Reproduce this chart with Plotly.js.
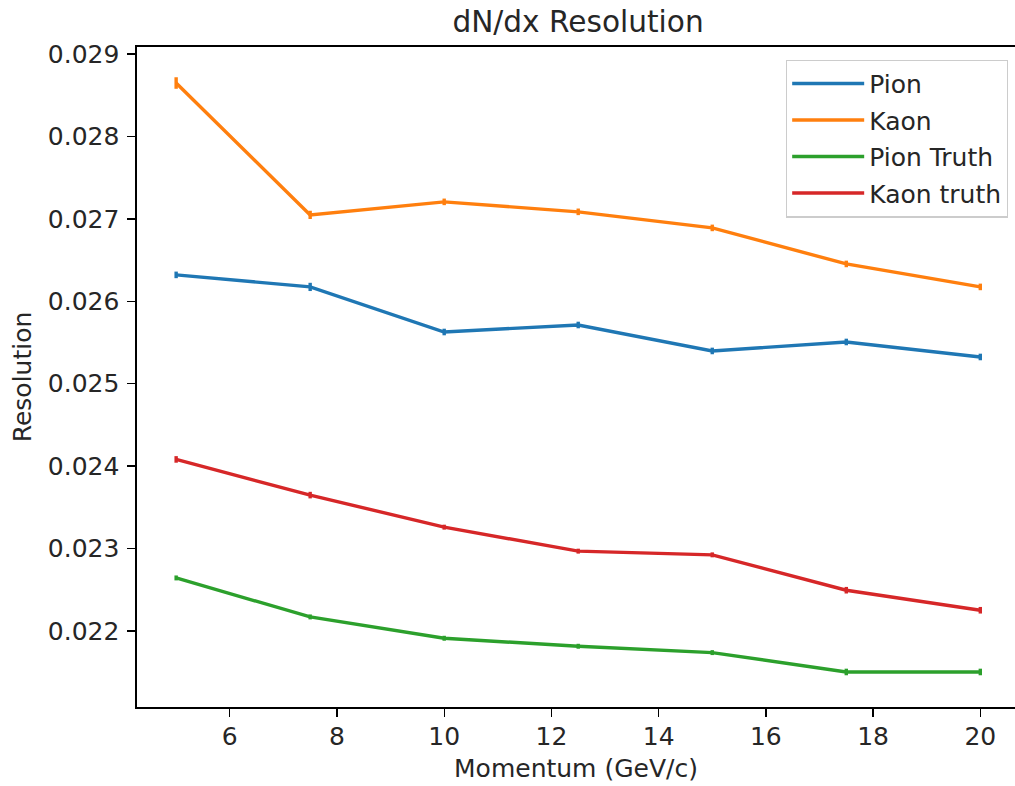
<!DOCTYPE html>
<html>
<head>
<meta charset="utf-8">
<script src="https://cdn.plot.ly/plotly-3.0.1.min.js"></script>
<style>html,body{margin:0;padding:0;background:#fff;}#chart{width:1015px;height:786px;}</style>
</head>
<body>
<div id="chart"></div>
<script>
const momentum = [5, 7.5, 10, 12.5, 15, 17.5, 20];
const pion = [0.02632, 0.026174, 0.025627, 0.025712, 0.025397, 0.025506, 0.025324];
const pionErr = [0.00004, 0.00005, 0.00004, 0.00004, 0.00004, 0.00004, 0.00004];
const kaon = [0.028648, 0.027048, 0.027206, 0.027085, 0.02689, 0.026453, 0.026174];
const kaonErr = [0.00007, 0.00005, 0.00004, 0.00004, 0.00004, 0.00004, 0.00004];
const pionTruth = [0.022643, 0.02217, 0.021911, 0.021814, 0.021737, 0.021502, 0.021502];
const pionTruthErr = [0.00003, 0.00003, 0.00003, 0.00003, 0.00003, 0.00004, 0.00004];
const kaonTruth = [0.024081, 0.023648, 0.023259, 0.022968, 0.022923, 0.022494, 0.022251];
const kaonTruthErr = [0.00004, 0.00004, 0.00003, 0.00003, 0.00003, 0.00004, 0.00004];
const seriesNames = ["Pion", "Kaon", "Pion Truth", "Kaon truth"];
const colors = ["#1f77b4", "#ff7f0e", "#2ca02c", "#d62728"];
const yTicks = [0.022, 0.023, 0.024, 0.025, 0.026, 0.027, 0.028, 0.029];
const xTicks = [6, 8, 10, 12, 14, 16, 18, 20];

const ys = [pion, kaon, pionTruth, kaonTruth];
const errs = [pionErr, kaonErr, pionTruthErr, kaonTruthErr];
const traces = ys.map((y, i) => ({
  x: momentum, y: y, name: seriesNames[i], type: 'scatter', mode: 'lines',
  legendgroup: 'g' + i,
  line: {color: colors[i], width: 3.4},
  error_y: {type: 'data', array: errs[i], visible: true, color: colors[i], thickness: 3.4, width: 0}
}));

const font = {family: 'DejaVu Sans', size: 25, color: '#262626'};
const layout = {
  width: 1015, height: 786,
  margin: {l: 137.3, r: 0, t: 47.3, b: 79.3, pad: 0},
  paper_bgcolor: '#fff', plot_bgcolor: '#fff',
  font: font,
  showlegend: true,
  title: {text: 'dN/dx Resolution', font: {family: 'DejaVu Sans', size: 29.6, color: '#262626'},
          x: 0.5695, xanchor: 'center', xref: 'container', y: 0.972, yanchor: 'middle', yref: 'container'},
  xaxis: {
    range: [4.27, 20.647], tickvals: xTicks, ticktext: xTicks.map(String),
    ticks: 'outside', ticklen: 8, tickwidth: 1.4, tickcolor: '#000',
    showline: true, linecolor: '#000', linewidth: 1.6, mirror: true,
    showgrid: false, zeroline: false, automargin: false,
    tickfont: font, ticklabelstandoff: -2,
    title: {text: 'Momentum (GeV/c)', font: font, standoff: 10}
  },
  yaxis: {
    range: [0.021077, 0.029085], tickvals: yTicks, ticktext: yTicks.map(v => v.toFixed(3)),
    ticks: 'outside', ticklen: 8, tickwidth: 1.4, tickcolor: '#000',
    showline: true, linecolor: '#000', linewidth: 1.6, mirror: false,
    showgrid: false, zeroline: false, automargin: false,
    tickfont: font, ticklabelstandoff: 3,
    title: {text: 'Resolution', font: font, standoff: 9}
  },
  legend: {
    x: 0.992, xanchor: 'right', y: 0.981, yanchor: 'top',
    bgcolor: 'rgba(255,255,255,0.8)', bordercolor: '#cccccc', borderwidth: 1.2,
    font: font, traceorder: 'grouped', tracegroupgap: 1, itemwidth: 72
  }
};
Plotly.newPlot('chart', traces, layout, {displayModeBar: false, staticPlot: true});
</script>
</body>
</html>
